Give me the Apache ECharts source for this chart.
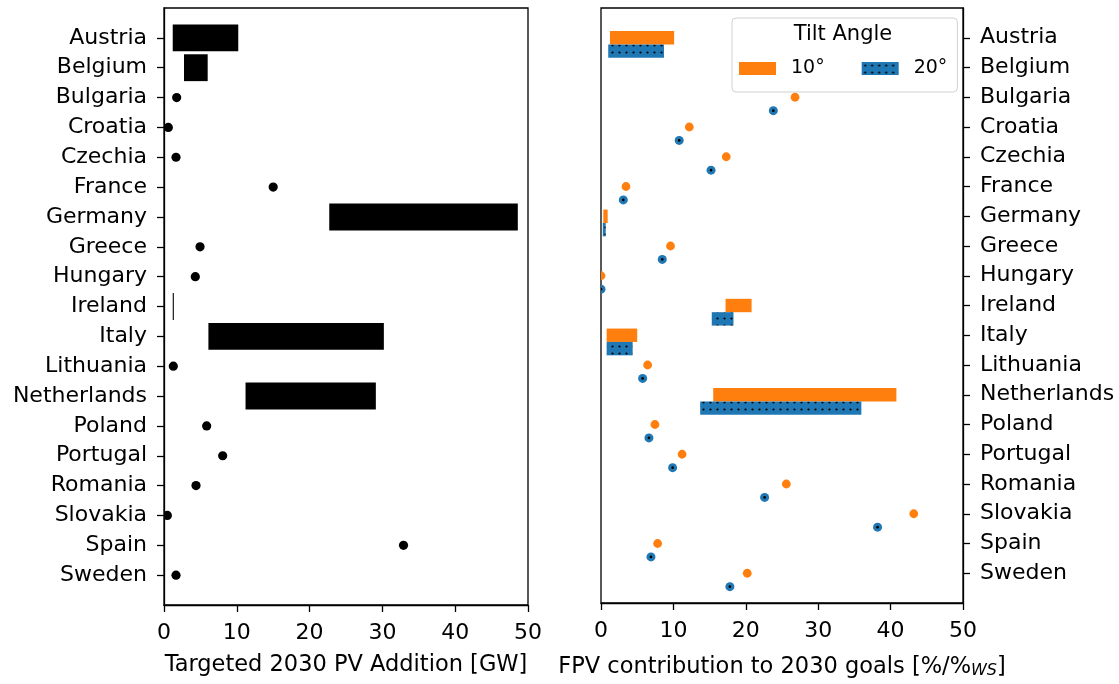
<!DOCTYPE html>
<html>
<head>
<meta charset="utf-8">
<script src="https://cdn.jsdelivr.net/npm/echarts@6/dist/echarts.min.js"></script>
<style>
  html, body { margin: 0; padding: 0; background: #fff; }
  #chart { width: 1119px; height: 684px; }
</style>
</head>
<body>
<div id="chart"></div>
<script>
const countries = ["Austria", "Belgium", "Bulgaria", "Croatia", "Czechia", "France", "Germany", "Greece",
  "Hungary", "Ireland", "Italy", "Lithuania", "Netherlands", "Poland", "Portugal", "Romania",
  "Slovakia", "Spain", "Sweden"];

// targeted 2030 PV addition [GW], low / high (equal -> single point)
const pvLow  = [1.2, 2.75, 1.74, 0.59, 1.65, 15.0, 22.7, 4.95, 4.3, 1.2, 6.1, 1.28, 11.2, 5.86, 8.06, 4.4, 0.46, 32.9, 1.65];
const pvHigh = [10.2, 6.0, 1.74, 0.59, 1.65, 15.0, 48.6, 4.95, 4.3, 1.35, 30.2, 1.28, 29.1, 5.86, 8.06, 4.4, 0.46, 32.9, 1.65];

// FPV contribution to 2030 goals, tilt 10 deg
const tilt10Low  = [1.24, null, 26.8, 12.2, 17.3, 3.45, 0.32, 9.6, 0.0, 17.2, 0.78, 6.44, 15.5, 7.45, 11.2, 25.6, 43.2, 7.82, 20.2];
const tilt10High = [10.1, null, 26.8, 12.2, 17.3, 3.45, 0.92, 9.6, 0.0, 20.8, 5.0, 6.44, 40.8, 7.45, 11.2, 25.6, 43.2, 7.82, 20.2];
// tilt 20 deg
const tilt20Low  = [1.0, null, 23.8, 10.8, 15.2, 3.08, 0.25, 8.46, 0.0, 15.3, 0.78, 5.75, 13.7, 6.62, 9.89, 22.6, 38.2, 6.9, 17.8];
const tilt20High = [8.7, null, 23.8, 10.8, 15.2, 3.08, 0.65, 8.46, 0.0, 18.3, 4.37, 5.75, 35.96, 6.62, 9.89, 22.6, 38.2, 6.9, 17.8];

const yTicks = countries.map((c, i) => i);

const FONT = "DejaVu Sans";
const ORANGE = "#ff7f0e";
const BLUE = "#1f77b4";

// dotted hatch for the 20 deg marks
const tile = document.createElement("canvas");
tile.width = 7; tile.height = 7;
const tctx = tile.getContext("2d");
tctx.fillStyle = BLUE;
tctx.fillRect(0, 0, 7, 7);
tctx.fillStyle = "#000";
tctx.beginPath();
tctx.arc(3.5, 3.5, 1.1, 0, Math.PI * 2);
tctx.fill();
const hatch = { image: tile, repeat: "repeat" };

function splitData(low, high, offset) {
  const bars = [], dots = [];
  low.forEach((v, i) => {
    if (v == null) return;
    if (v === high[i]) dots.push([v, i + offset]);
    else bars.push([v, high[i], i + offset]);
  });
  return { bars, dots };
}
const pv = splitData(pvLow, pvHigh, 0);
const t10 = splitData(tilt10Low, tilt10High, 0);
const t20 = splitData(tilt20Low, tilt20High, 0.45);

function barItem(thick, fill) {
  return function (params, api) {
    const a = api.coord([api.value(0), api.value(2)]);
    const b = api.coord([api.value(1), api.value(2)]);
    const h = api.size([0, thick])[1];
    return {
      type: "rect",
      shape: { x: a[0], y: a[1] - h / 2, width: Math.max(b[0] - a[0], 0.8), height: h },
      style: { fill: fill }
    };
  };
}
function dotItem(r, fill, inner) {
  return function (params, api) {
    const p = api.coord([api.value(0), api.value(1)]);
    const kids = [{ type: "circle", shape: { cx: p[0], cy: p[1], r: r }, style: { fill: fill } }];
    if (inner) kids.push({ type: "circle", shape: { cx: p[0], cy: p[1], r: 1.3 }, style: { fill: "#000" } });
    return { type: "group", children: kids };
  };
}

function xAxis(gridIndex, name, rich) {
  return {
    type: "value", gridIndex: gridIndex, min: 0, max: 50, interval: 10,
    name: name, nameLocation: "middle", nameGap: 49,
    nameTextStyle: { fontFamily: FONT, fontSize: 22.5, color: "#000", rich: rich },
    axisLine: { show: true, onZero: false, lineStyle: { color: "#000", width: 1.3 } },
    axisTick: { show: true, length: 7, lineStyle: { color: "#000", width: 1.3 } },
    axisLabel: { fontFamily: FONT, fontSize: 22, color: "#000", margin: 17 },
    splitLine: { show: false }
  };
}
function yAxis(gridIndex, pos) {
  return {
    type: "value", gridIndex: gridIndex, min: -1, max: 19, inverse: true, position: pos,
    axisLine: { show: true, onZero: false, lineStyle: { color: "#000", width: 1.3 } },
    axisTick: { show: true, length: 7, customValues: yTicks, lineStyle: { color: "#000", width: 1.3 } },
    axisLabel: {
      fontFamily: FONT, fontSize: 22, color: "#000", margin: 17, customValues: yTicks,
      formatter: v => countries[v] || ""
    },
    splitLine: { show: false }
  };
}

const chart = echarts.init(document.getElementById("chart"));
chart.setOption({
  animation: false,
  grid: [
    { left: 164, top: 8, width: 364, height: 597, show: true, borderColor: "#000", borderWidth: 1.3 },
    { left: 601, top: 8, width: 362, height: 597, show: true, borderColor: "#000", borderWidth: 1.3 }
  ],
  xAxis: [
    xAxis(0, "Targeted 2030 PV Addition [GW]"),
    xAxis(1, "{a|FPV contribution to 2030 goals [%/%}{s|WS}{a|]}", {
      a: { fontFamily: FONT, fontSize: 22.5, color: "#000", lineHeight: 27, verticalAlign: "bottom" },
      s: { fontFamily: FONT, fontSize: 16, fontStyle: "italic", color: "#000", lineHeight: 16, padding: [10, 0, 0, 0], verticalAlign: "bottom" }
    })
  ],
  yAxis: [yAxis(0, "left"), yAxis(1, "right")],
  legend: {
    data: [{ name: "10°", icon: "rect" }, { name: "20°", icon: "rect" }],
    left: 732, top: 18, orient: "horizontal",
    padding: [41, 10, 14, 7],
    itemWidth: 37, itemHeight: 13, itemGap: 37,
    textStyle: { fontFamily: FONT, fontSize: 19, color: "#000", padding: [0, 0, 0, 10] },
    borderColor: "#d0d0d0", borderWidth: 1, borderRadius: 4,
    backgroundColor: "rgba(255,255,255,0.8)",
    selectedMode: false
  },
  graphic: [{
    type: "text", x: 843, y: 35, z: 100,
    style: { text: "Tilt Angle", font: "21px DejaVu Sans", fill: "#000", textAlign: "center", textVerticalAlign: "middle" }
  }],
  series: [
    { type: "custom", name: "pv", xAxisIndex: 0, yAxisIndex: 0, clip: true,
      renderItem: barItem(0.9, "#000"), encode: { x: [0, 1], y: 2 }, data: pv.bars },
    { type: "custom", name: "pvdot", xAxisIndex: 0, yAxisIndex: 0, clip: true,
      renderItem: dotItem(4.6, "#000", false), encode: { x: 0, y: 1 }, data: pv.dots },
    { type: "custom", name: "10°", xAxisIndex: 1, yAxisIndex: 1, clip: true, itemStyle: { color: ORANGE },
      renderItem: barItem(0.45, ORANGE), encode: { x: [0, 1], y: 2 }, data: t10.bars },
    { type: "custom", name: "20°", xAxisIndex: 1, yAxisIndex: 1, clip: true, itemStyle: { color: hatch },
      renderItem: barItem(0.45, hatch), encode: { x: [0, 1], y: 2 }, data: t20.bars },
    { type: "custom", name: "10°", xAxisIndex: 1, yAxisIndex: 1, clip: true, itemStyle: { color: ORANGE },
      renderItem: dotItem(4.4, ORANGE, false), encode: { x: 0, y: 1 }, data: t10.dots },
    { type: "custom", name: "20°", xAxisIndex: 1, yAxisIndex: 1, clip: true, itemStyle: { color: hatch },
      renderItem: dotItem(4.5, BLUE, true), encode: { x: 0, y: 1 }, data: t20.dots }
  ]
});
</script>
</body>
</html>
